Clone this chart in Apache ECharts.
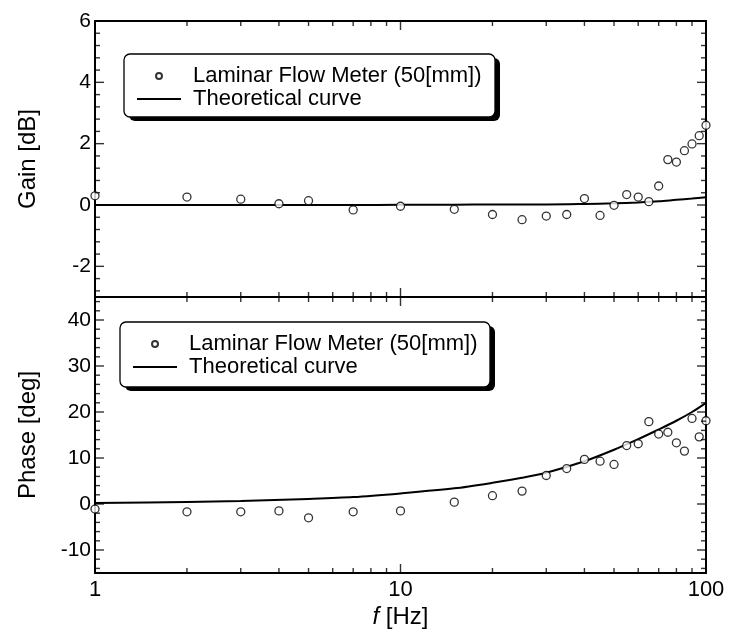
<!DOCTYPE html>
<html>
<head>
<meta charset="utf-8">
<script src="https://cdn.jsdelivr.net/npm/echarts@6/dist/echarts.min.js"></script>
<style>
  html, body { margin: 0; padding: 0; background: #fff; }
  #main { width: 729px; height: 637px; }
</style>
</head>
<body>
<div id="main"></div>
<script>
var FONT = "'Liberation Sans', Arial, sans-serif";

// measured points
var freq = [1, 2, 3, 4, 5, 7, 10, 15, 20, 25, 30, 35, 40, 45, 50, 55, 60, 65, 70, 75, 80, 85, 90, 95, 100];
var gainMeasured = [0.30, 0.26, 0.19, 0.04, 0.14, -0.16, -0.04, -0.14, -0.31, -0.48, -0.36, -0.31, 0.21, -0.34, -0.01, 0.34, 0.26, 0.11, 0.62, 1.48, 1.40, 1.77, 1.99, 2.26, 2.60];
var phaseMeasured = [-1.1, -1.7, -1.7, -1.5, -3.0, -1.7, -1.5, 0.4, 1.8, 2.8, 6.2, 7.7, 9.7, 9.3, 8.6, 12.7, 13.1, 17.9, 15.2, 15.6, 13.3, 11.5, 18.6, 14.6, 18.1];

// theoretical curve
var thFreq = [1, 2, 3, 5, 7, 10, 15, 20, 25, 30, 40, 50, 60, 70, 80, 90, 100];
var thGain = [0, 0, 0, 0, 0, 0.005, 0.01, 0.015, 0.02, 0.02, 0.035, 0.055, 0.085, 0.12, 0.17, 0.21, 0.25];
var thPhase = [0.2, 0.45, 0.65, 1.1, 1.5, 2.3, 3.4, 4.6, 5.7, 6.8, 9.3, 11.8, 14.1, 16.2, 18.1, 20.0, 22.0];

// axes
var xRange = [1, 100];
var xMajorTicks = [1, 10, 100];
var xMinorTicks = [2, 3, 4, 5, 6, 7, 8, 9, 20, 30, 40, 50, 60, 70, 80, 90];
var gainRange = [-3, 6];
var gainStep = 2;
var phaseRange = [-15, 45];
var phaseStep = 10;

var NAME_MEAS = 'Laminar Flow Meter (50[mm])';
var NAME_TH = 'Theoretical curve';

function pairs(xs, ys) {
    return xs.map(function (x, i) { return [x, ys[i]]; });
}

// values of all y ticks (major + 4 minor between)
function tickValues(range, step) {
    var out = [];
    var d = step / 5;
    for (var k = Math.ceil(range[0] / d - 1e-9); k * d <= range[1] + 1e-9; k++) {
        var v = +(k * d).toFixed(4);
        out.push({ v: v, major: Math.abs(v / step - Math.round(v / step)) < 1e-6 });
    }
    return out;
}

function xAxis(grid, pos, labels) {
    var ax = {
        type: 'log', logBase: 10, gridIndex: grid, position: pos,
        min: xRange[0], max: xRange[1],
        axisLine: { show: true, onZero: false, lineStyle: { color: '#000', width: 2 } },
        axisTick: { show: false },
        axisLabel: { show: labels, color: '#000', fontFamily: FONT, fontSize: 22, margin: 6 },
        splitLine: { show: false }
    };
    if (labels) {
        ax.name = '{i|f} [Hz]';
        ax.nameLocation = 'middle';
        ax.nameGap = 32;
        ax.nameTextStyle = { color: '#000', fontFamily: FONT, fontSize: 24,
            rich: { i: { fontStyle: 'italic', fontFamily: FONT, fontSize: 24, color: '#000' } } };
    }
    return ax;
}

function yAxis(grid, pos, range, step, name) {
    var ax = {
        type: 'value', gridIndex: grid, position: pos,
        min: range[0], max: range[1],
        axisLine: { show: true, onZero: false, lineStyle: { color: '#000', width: 2 } },
        axisTick: { show: false },
        axisLabel: {
            show: !!name, color: '#000', fontFamily: FONT, fontSize: 21, margin: 4,
            formatter: function (v) { return Math.abs(v % step) < 1e-9 ? String(v) : ''; }
        },
        splitLine: { show: false }
    };
    if (name) {
        ax.name = name;
        ax.nameLocation = 'middle';
        ax.nameRotate = 90;
        ax.nameGap = 55;
        ax.nameTextStyle = { color: '#000', fontFamily: FONT, fontSize: 24 };
    }
    return ax;
}

function legend(left, top) {
    return {
        left: left, top: top, orient: 'vertical',
        data: [NAME_MEAS, { name: NAME_TH, icon: 'path://M0,0h44v2h-44z' }],
        selectedMode: false,
        padding: [11, 14, 12, 13],
        itemGap: 1,
        itemWidth: 44,
        itemHeight: 6,
        textStyle: { color: '#000', fontFamily: FONT, fontSize: 22, lineHeight: 20, padding: [0, 0, 0, 7] }
    };
}

// legend frame with its drop shadow
function legendBox(x, y, w, h) {
    return [
        { type: 'rect', z: -2, silent: true, shape: { x: x + 5, y: y + 4, width: w, height: h, r: 6 }, style: { fill: '#000' } },
        { type: 'rect', z: -1, silent: true, shape: { x: x, y: y, width: w, height: h, r: 6 }, style: { fill: '#fff', stroke: '#000', lineWidth: 1.3 } }
    ];
}

function scatter(idx, values) {
    return {
        name: NAME_MEAS, type: 'scatter', xAxisIndex: idx * 2, yAxisIndex: idx * 2,
        data: pairs(freq, values), symbol: 'circle', symbolSize: 8, clip: false, z: 3,
        itemStyle: { color: '#fff', borderColor: '#000', borderWidth: 1.3 }
    };
}

function curve(idx, values) {
    return {
        name: NAME_TH, type: 'line', xAxisIndex: idx * 2, yAxisIndex: idx * 2,
        data: pairs(thFreq, values), symbol: 'none', showSymbol: false, smooth: 0.3, z: 2,
        lineStyle: { color: '#000', width: 2 }, itemStyle: { color: '#000' }
    };
}

// inward frame ticks on all four sides, drawn as thin rect symbols on the axes
function tickMarks(idx, yRange, yStep) {
    var data = [];
    xMajorTicks.concat(xMinorTicks).forEach(function (f) {
        var len = xMinorTicks.indexOf(f) < 0 ? 9 : 5;
        data.push({ value: [f, yRange[0]], symbolSize: [1.4, len], symbolOffset: [0, -len / 2] });
        data.push({ value: [f, yRange[1]], symbolSize: [1.4, len], symbolOffset: [0, len / 2] });
    });
    tickValues(yRange, yStep).forEach(function (t) {
        var len = t.major ? 9 : 5;
        data.push({ value: [xRange[0], t.v], symbolSize: [len, 1.4], symbolOffset: [len / 2, 0] });
        data.push({ value: [xRange[1], t.v], symbolSize: [len, 1.4], symbolOffset: [-len / 2, 0] });
    });
    return {
        type: 'scatter', xAxisIndex: idx * 2, yAxisIndex: idx * 2,
        symbol: 'rect', clip: false, silent: true, z: 4,
        itemStyle: { color: '#000', borderWidth: 0 },
        data: data
    };
}

var chart = echarts.init(document.getElementById('main'));
chart.setOption({
    animation: false,
    backgroundColor: '#fff',
    grid: [
        { left: 95, right: 23, top: 21, height: 276 },
        { left: 95, right: 23, top: 297, height: 276 }
    ],
    xAxis: [xAxis(0, 'bottom', false), xAxis(0, 'top', false), xAxis(1, 'bottom', true), xAxis(1, 'top', false)],
    yAxis: [
        yAxis(0, 'left', gainRange, gainStep, 'Gain [dB]'), yAxis(0, 'right', gainRange, gainStep, null),
        yAxis(1, 'left', phaseRange, phaseStep, 'Phase [deg]'), yAxis(1, 'right', phaseRange, phaseStep, null)
    ],
    legend: [legend(124, 54), legend(120, 322)],
    graphic: legendBox(124, 54, 371, 63).concat(legendBox(120, 322, 370, 65)),
    series: [
        curve(0, thGain), scatter(0, gainMeasured), tickMarks(0, gainRange, gainStep),
        curve(1, thPhase), scatter(1, phaseMeasured), tickMarks(1, phaseRange, phaseStep)
    ]
});
</script>
</body>
</html>
